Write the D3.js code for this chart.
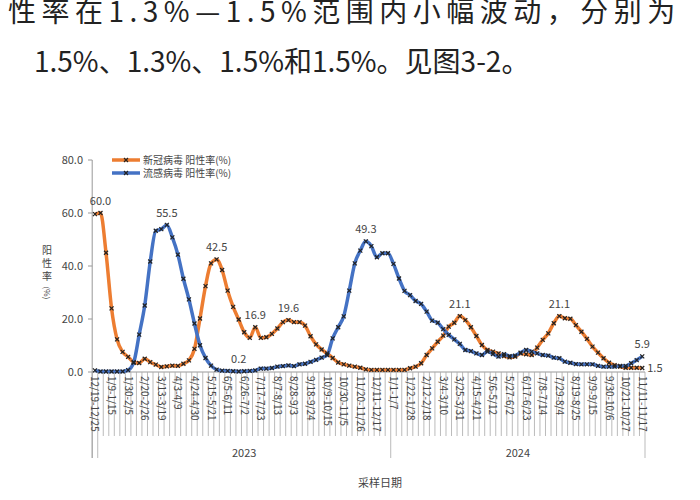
<!DOCTYPE html>
<html><head><meta charset="utf-8">
<script src="https://cdn.jsdelivr.net/npm/d3@7"></script>
<style>
body{margin:0;background:#fff;font-family:"Noto Sans CJK SC","Noto Sans",sans-serif;}
</style></head>
<body><svg id="c" width="700" height="500"></svg>
<script>
// weekly positivity rate (%), 12/19/2022 .. 11/11/2024
var covid = [59.6,60.0,45,24,12.3,7.6,5.7,3.7,3.4,5,3.7,2.8,1.9,2.1,2.4,2.3,3.1,4.4,8.7,20.2,
  32.4,41,42.5,38.5,30.7,24.6,19.8,15,12.9,16.9,12.9,13.1,14.4,16.4,18.8,19.6,18.8,18.8,17.5,13.5,
  10.4,8.5,7,5.3,3.6,2.9,2.4,2,1.6,1,0.8,0.8,0.8,0.8,0.8,0.8,0.8,1.4,2,3.3,
  6.4,8.9,11.4,13.7,17.1,18.6,21.1,19.6,16.9,13.6,10.2,8.3,7.7,7,6,5.5,5.8,7,6.7,6.4,
  9.2,12.1,14.6,18.4,21.1,20.3,20.1,17.7,15.2,12.5,9.6,7.3,5.2,3.5,2.6,2,1.6,1.6,1.6,1.5];
var flu = [0.6,0.2,0.2,0.2,0.2,0.2,0.7,3.5,14.1,25.1,41.7,53.3,53.9,55.5,50.8,44.3,35.2,27.4,18.3,10.1,
  5.3,2.4,0.9,0.5,0.4,0.3,0.2,0.3,0.4,0.6,1.3,1.3,1.5,2.0,2.2,2.5,2.2,2.9,3.1,3.8,
  4.6,5.4,6.4,12.7,16.9,21,30.7,41,45.8,49.3,47.5,43.3,44.8,44.8,40.8,35.3,30.6,29,26.8,25.7,
  22.8,19.4,18.6,16.2,14,12.3,10.6,8.3,7.9,7,6.4,7.7,6.8,5.8,6.7,6,6.2,7.3,8.3,7.7,
  7,6.4,6.2,5.4,5.2,3.9,3.5,3,2.9,2.9,2.9,2.3,2,2,2,2.3,2.3,3.3,4.5,5.9];
var tickLabels = ["12/19-12/25","1/9-1/15","1/30-2/5","2/20-2/26","3/13-3/19","4/3-4/9","4/24-4/30",
  "5/15-5/21","6/5-6/11","6/26-7/2","7/17-7/23","8/7-8/13","8/28-9/3","9/18-9/24","10/9-10/15",
  "10/30-11/5","11/20-11/26","12/11-12/17","1/1-1/7","1/22-1/28","2/12-2/18","3/4-3/10","3/25-3/31",
  "4/15-4/21","5/6-5/12","5/27-6/2","6/17-6/23","7/8-7/14","7/29-8/4","8/19-8/25","9/9-9/15",
  "9/30-10/6","10/21-10/27","11/11-11/17"];
var years = ["2023","2024"];
var yearStart = [1, 54, 100];
var yTicks = [0,20,40,60,80];
var peaks = [["c",1,"60.0"],["f",13,"55.5"],["c",22,"42.5"],["c",29,"16.9"],["c",35,"19.6"],
  ["f",26,"0.2"],["f",49,"49.3"],["c",66,"21.1"],["c",84,"21.1"],["f",99,"5.9"]];
var seriesNames = ["新冠病毒 阳性率(%)","流感病毒 阳性率(%)"];
var colors = ["#ED7D31","#4472C4"];

var svg = d3.select('#c');
// header text (paragraph above the figure)
svg.append('text').text('性率在1.3%—1.5%范围内小幅波动，分别为')
  .attr('x',8).attr('y',22).style('font-size','28px').style('letter-spacing','5.5px').style('fill','#222');
svg.append('text').text('1.5%、1.3%、1.5%和1.5%。见图3-2。')
  .attr('x',34).attr('y',72).style('font-size','28px').style('fill','#222');

var n = covid.length;
var x = d3.scaleBand().domain(d3.range(n)).range([92.2,645]);
var y = d3.scaleLinear().domain([0,80]).range([372,160]);
var cx = function(i){ return x(i)+x.bandwidth()/2; };

// y axis
var g = svg.append('g');
g.append('line').attr('x1',92.2).attr('x2',92.2).attr('y1',y(80)).attr('y2',458).style('stroke','#999');
yTicks.forEach(function(t){
  g.append('line').attr('x1',88).attr('x2',92.2).attr('y1',y(t)).attr('y2',y(t)).style('stroke','#999');
  g.append('text').text(t.toFixed(1)).attr('x',83).attr('y',y(t)+4)
    .attr('text-anchor','end').style('font-size','11px').style('fill','#444');
});
['阳','性','率'].forEach(function(ch,i){
  g.append('text').text(ch).attr('x',47).attr('y',254+i*13).attr('text-anchor','middle')
    .style('font-size','10px').style('fill','#444');
});
g.append('text').text('(%)').attr('transform','translate(44,293) rotate(90)').attr('text-anchor','middle')
  .style('font-size','8px').style('fill','#444');

// x axis
g.append('line').attr('x1',92.2).attr('x2',645).attr('y1',372).attr('y2',372).style('stroke','#999');
d3.range(n+1).forEach(function(i){
  var xx = i<n ? x(i) : 645;
  var big = yearStart.indexOf(i)>=0 || i===0;
  g.append('line').attr('x1',xx).attr('x2',xx).attr('y1',372).attr('y2',big?458:436)
    .style('stroke','#aaa').style('stroke-width',0.8);
});
tickLabels.forEach(function(t,k){
  var i = k*3;
  g.append('text').text(t).attr('transform','translate('+(cx(i)-3.5)+',376) rotate(90)')
    .style('font-size','10px').style('fill','#444');
});
years.forEach(function(yr,k){
  var mid = (x(yearStart[k]) + (yearStart[k+1]<n ? x(yearStart[k+1]) : 645))/2;
  g.append('text').text(yr).attr('x',mid).attr('y',457).attr('text-anchor','middle')
    .style('font-size','11px').style('fill','#444');
});
g.append('text').text('采样日期').attr('x',380).attr('y',487).attr('text-anchor','middle')
  .style('font-size','11px').style('fill','#444');

// lines
var line = d3.line().x(function(d,i){return cx(i);}).y(function(d){return y(d);}).curve(d3.curveMonotoneX);
[covid,flu].forEach(function(s,k){
  svg.append('path').attr('d',line(s)).style('fill','none').style('stroke',colors[k])
    .style('stroke-width',3.5);
});
function cross(sel,px,py){
  sel.append('path').attr('d','M'+(px-2)+','+(py-2)+'L'+(px+2)+','+(py+2)+'M'+(px-2)+','+(py+2)+'L'+(px+2)+','+(py-2))
    .style('stroke','#222').style('stroke-width',1.2);
}
var mk = svg.append('g');
[covid,flu].forEach(function(s){ s.forEach(function(d,i){ cross(mk,cx(i),y(d)); }); });

// data labels
peaks.forEach(function(p){
  var v = (p[0]==='c'?covid:flu)[p[1]];
  svg.append('text').text(p[2]).attr('x',cx(p[1])).attr('y',y(v)-8).attr('text-anchor','middle')
    .style('font-size','11px').style('fill','#444');
});
svg.append('text').text('1.5').attr('x',cx(n-1)+5).attr('y',y(covid[n-1])+4)
  .style('font-size','11px').style('fill','#444');

// legend
seriesNames.forEach(function(nm,k){
  var ly = 160 + k*13;
  svg.append('line').attr('x1',112).attr('x2',140).attr('y1',ly).attr('y2',ly)
    .style('stroke',colors[k]).style('stroke-width',3.5);
  cross(svg,126,ly);
  svg.append('text').text(nm).attr('x',143).attr('y',ly+4).style('font-size','10px').style('fill','#444');
});
</script></body></html>
